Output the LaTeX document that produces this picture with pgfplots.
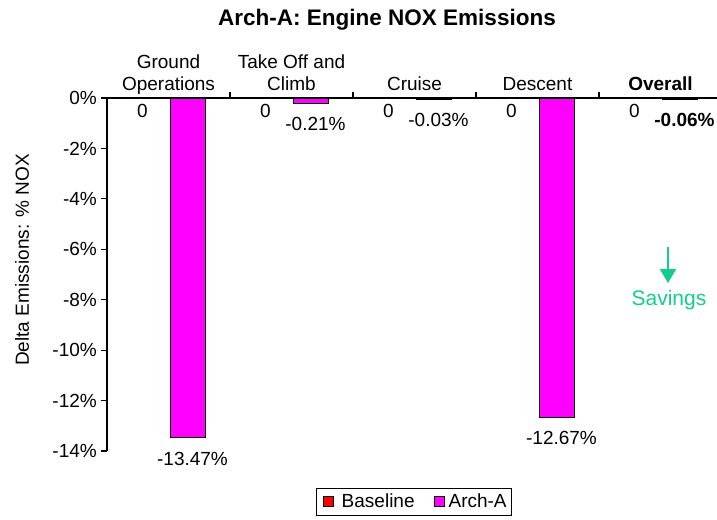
\documentclass[border=0pt]{standalone}
\usepackage{pgfplots}
\pgfplotsset{compat=1.18}
\usepackage{fontspec}
\setmainfont{Liberation Sans}
\usetikzlibrary{arrows.meta}
\definecolor{savegreen}{RGB}{20,204,140}
\definecolor{basered}{RGB}{255,0,0}
\definecolor{archmag}{RGB}{255,0,255}
\begin{document}
\fontsize{19bp}{22bp}\selectfont
\begin{tikzpicture}
\useasboundingbox (0,0) rectangle (717bp,-520bp);
\begin{axis}[
  at={(107bp,-451bp)}, anchor=south west,
  scale only axis, width=615bp, height=353bp,
  xmin=-0.5, xmax=4.5, ymin=-14, ymax=0,
  axis x line*=top, axis y line*=left,
  axis line style={line width=1.3pt},
  clip=false,
  ybar, bar width=35bp,
  tick align=outside,
  major tick length=6bp,
  tick style={black, line width=1.2pt},
  xtick={0.5,1.5,2.5,3.5},
  xticklabels={},
  extra x ticks={0,1,2,3,4},
  extra x tick labels={{Ground\\Operations},{Take Off and\\Climb},Cruise,Descent,\textbf{Overall}},
  extra x tick style={major tick length=0pt, tick style={draw=none}},
  xticklabel style={align=center, anchor=south, text depth=0.25em, inner sep=0pt, yshift=3bp},
  ytick={-14,-12,-10,-8,-6,-4,-2,0},
  yticklabels={-14\%,-12\%,-10\%,-8\%,-6\%,-4\%,-2\%,0\%},
  yticklabel style={inner sep=0pt, xshift=-4bp},
  legend columns=2,
  legend style={at={(0.503,-0.105)}, anchor=north west, xshift=-100bp, draw=black, line width=0.8pt,
    inner sep=3bp, /tikz/every even column/.append style={column sep=16bp}},
]
\addplot[fill=basered, draw=black, bar shift=-19bp,
  legend image code/.code={\path[draw=none,fill=none] (0bp,0bp) -- (20bp,0bp); \draw[fill=basered,draw=black,line width=0.8pt] (4bp,-5bp) rectangle (14bp,5bp);},
  nodes near coords, point meta=explicit symbolic,
  nodes near coords align={anchor=north},
  every node near coord/.append style={inner sep=0pt, yshift=-6bp, xshift=-7bp, black}]
  coordinates {(0,0) [0] (1,0) [0] (2,0) [0] (3,0) [0] (4,0) [0]};
\addlegendentry{Baseline}
\addplot[fill=archmag, draw=black, bar shift=19bp,
  legend image code/.code={\path[draw=none,fill=none] (0bp,0bp) -- (14bp,0bp); \draw[fill=archmag,draw=black,line width=0.8pt] (2bp,-5bp) rectangle (12bp,5bp);},
  nodes near coords, point meta=explicit symbolic,
  nodes near coords align={anchor=north},
  every node near coord/.append style={inner sep=0pt, yshift=-14bp, xshift=5bp, black}]
  coordinates {(0,-13.47) [-13.47\%] (1,-0.21) [-0.21\%] (2,-0.03) [-0.03\%] (3,-12.67) [-12.67\%] (4,-0.06) [\textbf{-0.06\%}]};
\addlegendentry{Arch-A}
\end{axis}
\node[font=\bfseries\fontsize{22.5bp}{26bp}\selectfont] at (387bp,-20bp) {Arch-A: Engine NOX Emissions};
\node[rotate=90] at (22bp,-260bp) {Delta Emissions: \% NOX};
\draw[savegreen, line width=2.2bp, -{Triangle[width=16bp,length=14bp]}] (668bp,-247bp) -- (668bp,-283bp);
\node[savegreen, anchor=base, inner sep=0pt, font=\fontsize{21bp}{24bp}\selectfont] at (669bp,-305bp) {Savings};
\end{tikzpicture}
\end{document}
